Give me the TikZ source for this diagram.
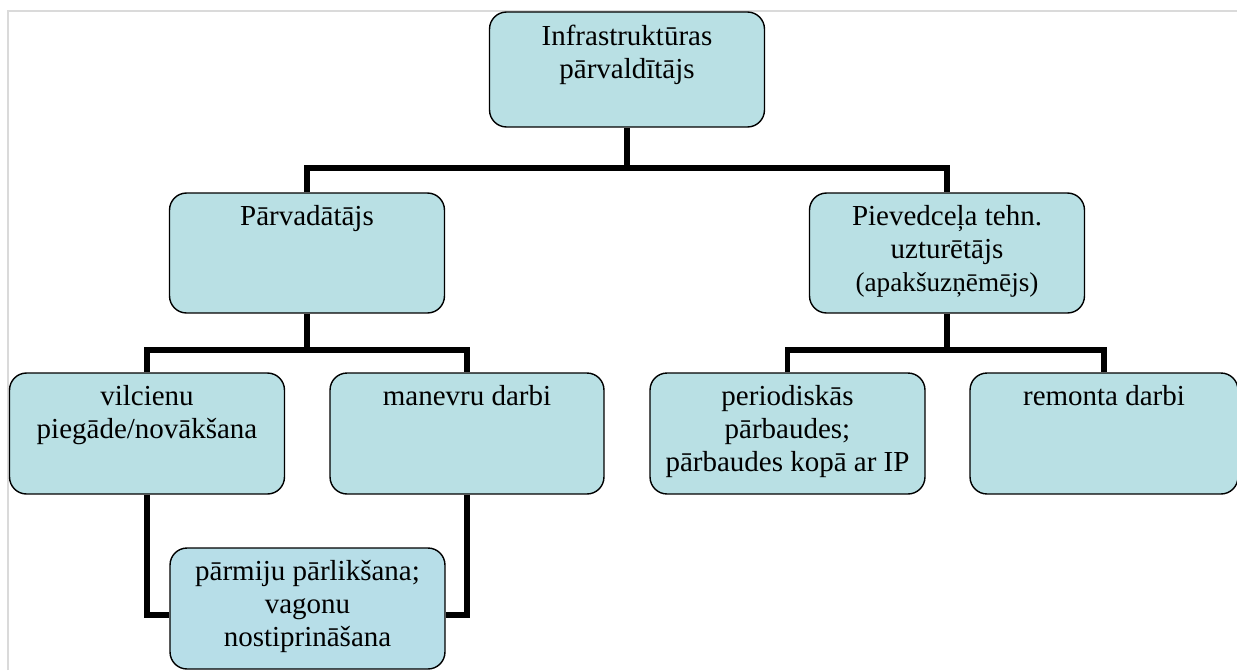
\documentclass[tikz,border=0pt]{standalone}
\usepackage{fontspec}
\setmainfont{Liberation Serif}
\usetikzlibrary{calc}
\definecolor{boxfill}{RGB}{185,224,228}
\definecolor{boxfillb}{RGB}{183,222,232}
\definecolor{framegray}{RGB}{218,218,218}

\begin{document}
\begin{tikzpicture}[x=0.02cm, y=-0.02cm,
  box/.style={draw=black, line width=0.8pt, fill=boxfill, rounded corners=0.34cm,
    minimum width=5.5cm, minimum height=2.4cm, inner sep=0pt},
  boxtext/.style={anchor=north, align=center, inner sep=0pt,
    font=\fontsize{16.5}{18.8}\selectfont},
  link/.style={line width=2.9pt}]
\useasboundingbox (0,0) rectangle (1237,670);
\draw [framegray, line width=1.4pt] (8,670) -- (8,11) -- (1237,11);

\coordinate (j1) at (627,168);
\coordinate (j2) at (307,350);
\coordinate (j3) at (947,350);

% boxes
\node [box, minimum height=2.3cm] (infra) at (627,69.5) {};
\node [box] (parv) at (307,253) {};
\node [box] (piev) at (947,253) {};
\node [box, minimum height=2.42cm] (vilc) at (147,433.5) {};
\node [box, minimum height=2.42cm, minimum width=5.48cm] (manev) at (467,433.5) {};
\node [box, minimum height=2.42cm] (perio) at (787.5,433.5) {};
\node [box, minimum height=2.42cm, minimum width=5.36cm] (remont) at (1104,433.5) {};
\node [box, fill=boxfillb, minimum height=2.42cm] (parm) at (307.5,608.5) {};

% links
\draw [link] (infra.south) -- (j1);
\draw [link] (parv.north) |- (j1) -| (piev.north);
\draw [link] (parv.south) -- (j2);
\draw [link] (vilc.north) |- (j2) -| (manev.north);
\draw [link] (piev.south) -- (j3);
\draw [link] (perio.north) |- (j3) -| (remont.north);
\draw [link] (vilc.south) |- ([yshift=-0.13cm]parm.west);
\draw [link] (manev.south) |- ([yshift=-0.13cm]parm.east);

% texts
\node [boxtext] (infra-t) at ([yshift=-0.26cm]infra.north) {Infrastruktūras\\pārvaldītājs};
\node [boxtext] (parv-t) at ([yshift=-0.26cm]parv.north) {Pārvadātājs};
\node [boxtext] (piev-t) at ([yshift=-0.26cm]piev.north)
  {Pievedceļa tehn.\\uzturētājs\\{\fontsize{15.5}{17.6}\selectfont (apakšuzņēmējs)}};
\node [boxtext] (vilc-t) at ([yshift=-0.26cm]vilc.north) {vilcienu\\piegāde/novākšana};
\node [boxtext] (manev-t) at ([yshift=-0.26cm]manev.north) {manevru darbi};
\node [boxtext] (perio-t) at ([yshift=-0.26cm]perio.north) {periodiskās\\pārbaudes;\\pārbaudes kopā ar IP};
\node [boxtext] (remont-t) at ([yshift=-0.26cm]remont.north) {remonta darbi};
\node [boxtext] (parm-t) at ([yshift=-0.26cm]parm.north) {pārmiju pārlikšana;\\vagonu\\nostiprināšana};
\end{tikzpicture}
\end{document}
